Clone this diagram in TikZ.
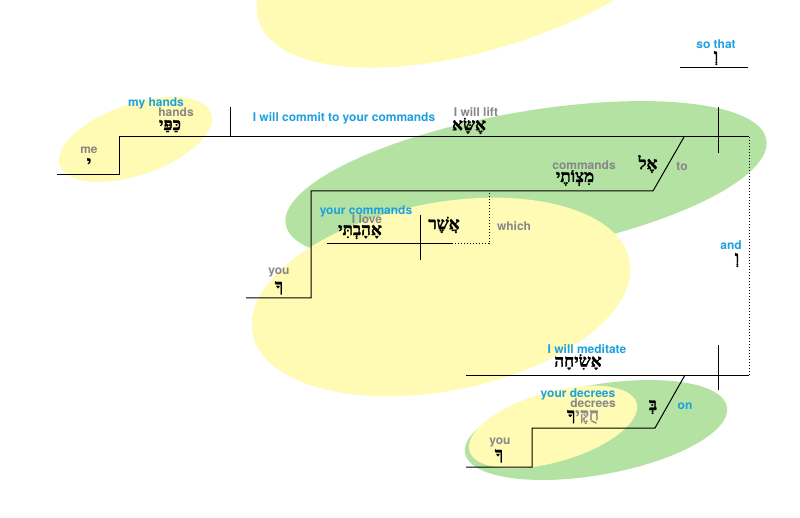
\documentclass[tikz,border=0pt]{standalone}
\usepackage{fontspec}
\setmainfont{TeX Gyre Heros}
\newfontfamily\hebfont[Script=Hebrew, FakeBold=1.6]{Liberation Serif}
\TeXXeTstate=1
\usepackage{tikz}
\usetikzlibrary{positioning}
\definecolor{skyblue}{RGB}{30,160,222}
\definecolor{glossgray}{RGB}{135,135,135}
\definecolor{lemon}{RGB}{255,251,180}
\definecolor{leaf}{RGB}{180,226,162}
\newcommand{\hword}[1]{{\hebfont\bfseries\beginR#1\endR}}
\tikzstyle{eng} = [text=skyblue, inner sep=0pt, font=\bfseries\fontsize{12}{12}\selectfont]
\tikzstyle{gloss} = [text=glossgray, inner sep=0pt, font=\bfseries\fontsize{12}{12}\selectfont]
\tikzstyle{word} = [text=black, inner sep=0pt, font=\fontsize{17}{17}\selectfont]
\tikzstyle{diag} = [draw, line width=1pt]
\tikzstyle{dots} = [draw, line width=1pt, dash pattern=on 1.2pt off 1.8pt]
\begin{document}
\begin{tikzpicture}[x=1pt, y=-1pt]
\useasboundingbox (0,0) rectangle (800,518);

% blobs =============================
\begin{scope}
\clip (0,0) rectangle (800,518);
\fill[leaf, rotate around={10:(526,182)}] (526,182) ellipse [x radius=244, y radius=70];
\fill[leaf, rotate around={10:(596,430)}] (596,430) ellipse [x radius=133, y radius=45];
\fill[lemon, rotate around={18:(487,-53)}] (487,-53) ellipse [x radius=240, y radius=100];
\fill[lemon, rotate around={19:(135.5,139.5)}] (135.5,139.5) ellipse [x radius=80, y radius=35.5];
\fill[lemon, rotate around={11:(441,297)}] (441,297) ellipse [x radius=192, y radius=94];
\fill[lemon, rotate around={16:(553,427)}] (553,427) ellipse [x radius=87, y radius=35];
\end{scope}

% lines =============================
\coordinate (mainL) at (57,175);
\coordinate (mainS) at (119,175);
\coordinate (mainT) at (119,137);
\coordinate (mainR) at (749,137);
\coordinate (objA) at (230,107);
\coordinate (objB) at (230,137);
\coordinate (subjA) at (718,107);
\coordinate (subjB) at (718,153);
\coordinate (toA) at (684,137);
\coordinate (toB) at (653,191);
\coordinate (toC) at (311,191);
\coordinate (toD) at (311,298);
\coordinate (toE) at (246,298);
\coordinate (relA) at (327,244);
\coordinate (relB) at (452,244);
\coordinate (relC) at (489,244);
\coordinate (relD) at (489,193);
\coordinate (relE) at (420,215);
\coordinate (relF) at (420,260);
\coordinate (medL) at (466,375);
\coordinate (medR) at (749,375);
\coordinate (medA) at (718,345);
\coordinate (medB) at (718,390);
\coordinate (onA) at (685,375);
\coordinate (onB) at (655,428);
\coordinate (onC) at (532,428);
\coordinate (onD) at (532,467);
\coordinate (onE) at (466,467);
\coordinate (sotL) at (680,68);
\coordinate (sotR) at (748,68);

\path[diag] (mainL) -- (mainS) -- (mainT) -- (mainR);
\path[diag] (objA) -- (objB);
\path[diag] (subjA) -- (subjB);
\path[diag] (toA) -- (toB) -- (toC) -- (toD) -- (toE);
\path[diag] (relA) -- (relB);
\path[dots] (relB) -- (relC) -- (relD);
\path[diag] (relE) -- (relF);
\path[dots] (mainR) -- (medR);
\path[diag] (medL) -- (medR);
\path[diag] (medA) -- (medB);
\path[diag] (onA) -- (onB) -- (onC) -- (onD) -- (onE);
\path[diag] (sotL) -- (sotR);

% words =============================
\node[eng] (sothat) at (716,44) {so that};
\node[word] (vav1) at (716,58) {\hword{וְ}};
\node[eng] (myhands) at (156,103) {my hands};
\node[gloss] (hands) at (176,112) {hands};
\node[word] (kappay) at (170,126) {\hword{כַּפַּי}};
\node[gloss] (me) at (89,150) {me};
\node[word] (yod) at (89,163) {\hword{י}};
\node[eng] (commit) at (344,118) {I will commit to your commands};
\node[gloss] (lift) at (476,112) {I will lift};
\node[word] (essa) at (469,126) {\hword{אֶשָּׂא}};
\node[gloss] (commands) at (584,165) {commands};
\node[word] (mitsvotay) at (575,178) {\hword{מִצְוֹתֶי}};
\node[word] (el) at (648,164) {\hword{אֶל}};
\node[gloss] (to) at (682,167) {to};
\node[eng] (yourcmd) at (366,211) {your commands};
\node[gloss] (love) at (367,219) {I love};
\node[word] (ahavti) at (360,232) {\hword{אָהָבְתִּי}};
\node[word] (asher) at (444,225) {\hword{אֲשֶׁר}};
\node[gloss] (which) at (514,226) {which};
\node[gloss] (you1) at (279,273) {you};
\node[word] (kha1) at (279,288) {\hword{ךָ}};
\node[eng] (and) at (731,245) {and};
\node[word] (vav2) at (737,260) {\hword{וְ}};
\node[eng] (meditate) at (587,349) {I will meditate};
\node[word] (asicha) at (578,362) {\hword{אָשִׂיחָה}};
\node[word] (be) at (653,407) {\hword{בְּ}};
\node[eng] (on) at (685,406) {on};
\node[eng] (yourdec) at (578,394) {your decrees};
\node[gloss] (decrees) at (593,403) {decrees};
\node[word] (chuqqekha) at (583,417) {\hword{חֻקֶּי{\color{black!45}ךָ}}};
\node[gloss] (you2) at (500,443) {you};
\node[word] (kha2) at (499,456) {\hword{ךָ}};

\end{tikzpicture}
\end{document}
